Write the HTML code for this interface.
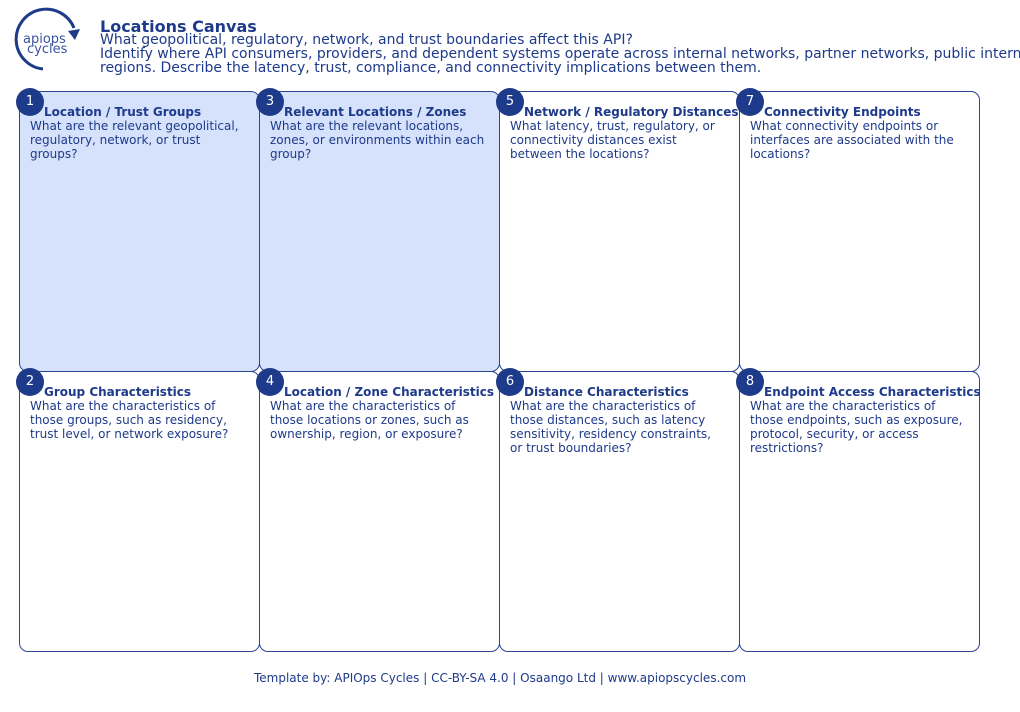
<!DOCTYPE html>
<html><head><meta charset="utf-8"><style>
body{margin:0;width:1020px;height:712px;background:#fff;font-family:"DejaVu Sans","Liberation Sans",sans-serif;color:#1e3a8a;position:relative;overflow:hidden}
.h1{position:absolute;left:100px;top:18px;font-weight:bold;font-size:16px;line-height:18px;white-space:nowrap}
.sub{position:absolute;left:100px;top:33px;font-size:14px;line-height:14px;white-space:nowrap}
.card{position:absolute;width:241px;height:281px;border:1px solid #2b4590;border-radius:9px;box-sizing:border-box}
.blue{background:#d6e2fc}
.num{position:absolute;width:28px;height:28px;border-radius:50%;background:#1e3a8a;color:#fff;font-size:13px;line-height:28px;text-align:center}
.t{position:absolute;font-size:12px;line-height:14px;white-space:nowrap}
.t b{display:block;margin-left:14px}
.foot{position:absolute;left:0;width:1000px;top:671px;text-align:center;font-size:12px}
</style></head><body>
<svg style="position:absolute;left:10px;top:6px" width="76" height="68" viewBox="0 0 76 68">
<path d="M33 63 A30 30 0 1 1 64 22" fill="none" stroke="#1e3a8a" stroke-width="3"/>
<path d="M58 25 L70 23 L65 34 Z" fill="#1e3a8a"/>
<text x="13" y="37" font-size="13" fill="#3b54a0" font-family="DejaVu Sans">apiops</text>
<text x="17" y="47" font-size="13" fill="#3b54a0" font-family="DejaVu Sans">cycles</text>
</svg>
<div class="h1">Locations Canvas</div>
<div class="sub">What geopolitical, regulatory, network, and trust boundaries affect this API?<br>Identify where API consumers, providers, and dependent systems operate across internal networks, partner networks, public internet<br>regions. Describe the latency, trust, compliance, and connectivity implications between them.</div>

<div class="card blue" style="left:19px;top:91px"></div>
<div class="card blue" style="left:259px;top:91px"></div>
<div class="card" style="left:499px;top:91px"></div>
<div class="card" style="left:739px;top:91px"></div>
<div class="card" style="left:19px;top:371px"></div>
<div class="card" style="left:259px;top:371px"></div>
<div class="card" style="left:499px;top:371px"></div>
<div class="card" style="left:739px;top:371px"></div>

<div class="num" style="left:16px;top:88px">1</div>
<div class="num" style="left:256px;top:88px">3</div>
<div class="num" style="left:496px;top:88px">5</div>
<div class="num" style="left:736px;top:88px">7</div>
<div class="num" style="left:16px;top:368px">2</div>
<div class="num" style="left:256px;top:368px">4</div>
<div class="num" style="left:496px;top:368px">6</div>
<div class="num" style="left:736px;top:368px">8</div>

<div class="t" style="left:30px;top:105px"><b>Location / Trust Groups</b>What are the relevant geopolitical,<br>regulatory, network, or trust<br>groups?</div>
<div class="t" style="left:270px;top:105px"><b>Relevant Locations / Zones</b>What are the relevant locations,<br>zones, or environments within each<br>group?</div>
<div class="t" style="left:510px;top:105px"><b>Network / Regulatory Distances</b>What latency, trust, regulatory, or<br>connectivity distances exist<br>between the locations?</div>
<div class="t" style="left:750px;top:105px"><b>Connectivity Endpoints</b>What connectivity endpoints or<br>interfaces are associated with the<br>locations?</div>
<div class="t" style="left:30px;top:385px"><b>Group Characteristics</b>What are the characteristics of<br>those groups, such as residency,<br>trust level, or network exposure?</div>
<div class="t" style="left:270px;top:385px"><b>Location / Zone Characteristics</b>What are the characteristics of<br>those locations or zones, such as<br>ownership, region, or exposure?</div>
<div class="t" style="left:510px;top:385px"><b>Distance Characteristics</b>What are the characteristics of<br>those distances, such as latency<br>sensitivity, residency constraints,<br>or trust boundaries?</div>
<div class="t" style="left:750px;top:385px"><b>Endpoint Access Characteristics</b>What are the characteristics of<br>those endpoints, such as exposure,<br>protocol, security, or access<br>restrictions?</div>

<div class="foot">Template by: APIOps Cycles | CC-BY-SA 4.0 | Osaango Ltd | www.apiopscycles.com</div>
</body></html>
